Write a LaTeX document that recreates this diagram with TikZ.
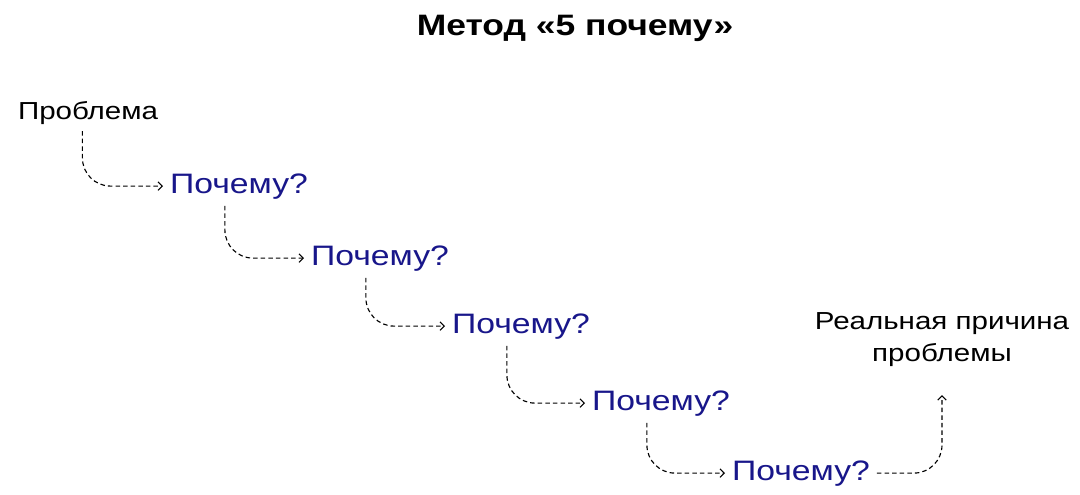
\documentclass[tikz,border=0pt]{standalone}
\usepackage{fontspec}
\setmainfont{Liberation Sans}[FakeStretch=1.2]
\usetikzlibrary{arrows.meta, calc}
\definecolor{whyblue}{RGB}{24,22,138}

\begin{document}
\begin{tikzpicture}[x=0.025cm, y=-0.025cm,
    why/.style={whyblue, font=\fontsize{20}{24}\selectfont, inner sep=0pt, outer sep=5pt, anchor=base west},
    link/.style={draw=black, line width=0.8pt, dash pattern=on 3.2pt off 2.2pt, rounded corners=20pt, -{Straight Barb[length=3pt,width=6pt]}}]

    \useasboundingbox (0,0) rectangle (1080,494);

    \node[font=\bfseries\fontsize{21}{25}\selectfont, anchor=base] (title) at (575,35) {Метод «5 почему»};

    \node[font=\fontsize{17.5}{21}\selectfont, inner sep=0pt, outer sep=5pt, anchor=base west] (prob) at (11,119) {Проблема};

    \foreach \i/\x/\y in {1/163/193, 2/304/265, 3/445/333, 4/585/410, 5/725/480}{
        \node[why] (W\i) at (\x,\y) {Почему?};
    }

    \node[font=\fontsize{17.5}{22.7}\selectfont, align=center, inner sep=0pt, outer sep=5pt] (real) at (942,340) {Реальная причина\\проблемы};

    \draw[link] ([xshift=-4pt]prob.south) |- (W1.west);
    \foreach \i [count=\j from 2] in {1,...,4}{
        \draw[link] ([xshift=-10pt]W\i.south) |- (W\j.west);
    }
    \draw[link, shorten >=15pt] (W5.east) -| (real.south);
\end{tikzpicture}
\end{document}
